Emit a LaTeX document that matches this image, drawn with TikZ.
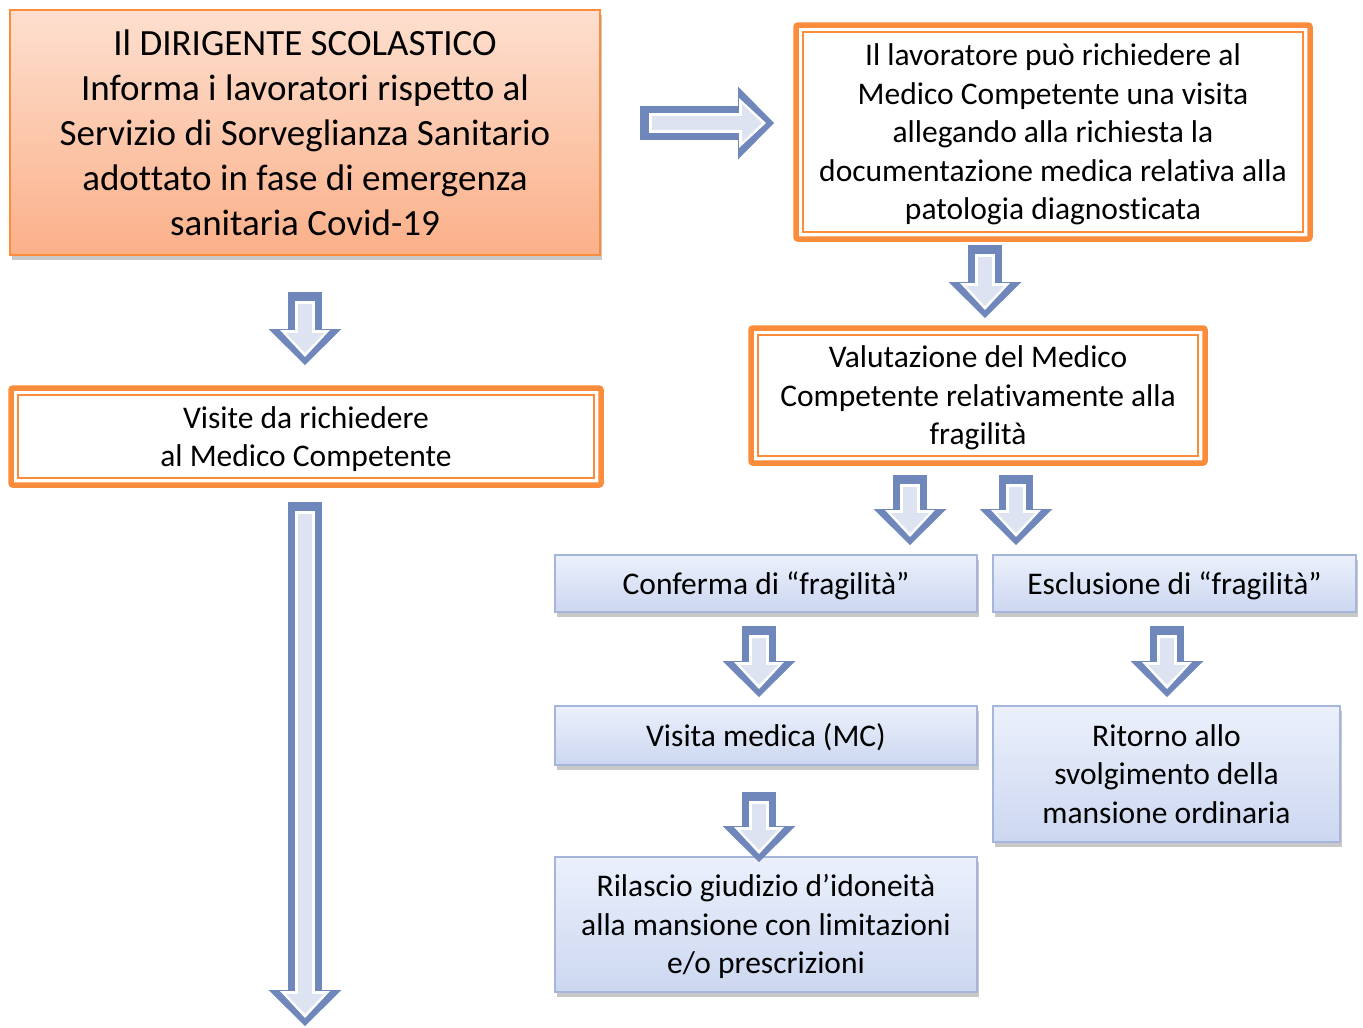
\documentclass[tikz,border=0pt]{standalone}
\usepackage{fontspec}
\setmainfont{Carlito}[Ligatures={NoCommon}]
\usetikzlibrary{arrows.meta,shadows,calc}
\definecolor{orng}{RGB}{250,140,60}
\definecolor{ablue}{RGB}{111,135,187}
\definecolor{alight}{RGB}{221,227,241}
\definecolor{btop}{RGB}{235,240,251}
\definecolor{bbot}{RGB}{204,215,240}
\definecolor{bborder}{RGB}{165,182,218}
\definecolor{otop}{RGB}{253,223,207}
\definecolor{obot}{RGB}{251,176,137}
\newcommand\lnstrut{\rule[-0.269em]{0pt}{1.221em}}
\tikzset{
  every node/.style={outer sep=0pt, inner sep=0pt, align=center, text=black,
    font=\fontsize{31.5}{38.5}\selectfont},
  orangebox/.style={draw=orng, line width=5.5pt, rounded corners=2pt, fill=white},
  innerline/.style={draw=orng, line width=1.8pt},
  bluebox/.style={draw=bborder, line width=1.5pt, top color=btop, bottom color=bbot,
    drop shadow={shadow xshift=2pt, shadow yshift=-5pt, opacity=0.3, fill=black!70}},
  headbox/.style={draw=orng, line width=1.5pt, top color=otop, bottom color=obot,
    drop shadow={shadow xshift=2pt, shadow yshift=-5pt, opacity=0.3, fill=black!70},
    font=\fontsize{37}{45}\selectfont},
  arrouter/.style={line width=34pt, ablue, -{Triangle[width=73pt,length=36pt,line width=0pt]}},
  arrwhite/.style={line width=20pt, white, shorten <=9pt, shorten >=8pt,
    -{Triangle[width=50pt,length=27pt,line width=0pt]}},
  arrinner/.style={line width=14pt, alight, shorten <=12pt, shorten >=12pt,
    -{Triangle[width=38pt,length=20pt,line width=0pt]}},
}
\newcommand\blockarr[2]{%
  \draw[arrouter] #1 -- #2;
  \draw[arrwhite] #1 -- #2;
  \draw[arrinner] #1 -- #2;
}
\begin{document}
\begin{tikzpicture}[x=1pt,y=-1pt]
\useasboundingbox[fill=white] (0,0) rectangle (1363,1028);

% boxes
\node[headbox, minimum width=590pt, minimum height=245pt] (head) at (305,132.5)
  {Il DIRIGENTE SCOLASTICO\\Informa i lavoratori rispetto al\\Servizio di Sorveglianza Sanitario\\adottato in fase di emergenza\\sanitaria Covid-19};

\node[orangebox, minimum width=514pt, minimum height=214pt] (req) at (1053,132)
  {\lnstrut Il lavoratore può richiedere al\\Medico Competente una visita\\allegando alla richiesta la\\documentazione medica relativa alla\\patologia diagnosticata\lnstrut};
\draw[innerline] ($(req.north west)+(7,7)$) rectangle ($(req.south east)+(-7,-7)$);

\node[orangebox, minimum width=590pt, minimum height=97pt] (vis) at (306,436.5)
  {\lnstrut Visite da richiedere\\al Medico Competente\lnstrut};
\draw[innerline] ($(vis.north west)+(7,7)$) rectangle ($(vis.south east)+(-7,-7)$);

\node[orangebox, minimum width=454pt, minimum height=135pt] (val) at (978,395.5)
  {\lnstrut Valutazione del Medico\\Competente relativamente alla\\fragilità\lnstrut};
\draw[innerline] ($(val.north west)+(7,7)$) rectangle ($(val.south east)+(-7,-7)$);

\node[bluebox, minimum width=422pt, minimum height=57pt] (conf) at (766,583.5)
  {\lnstrut Conferma di “fragilità”};
\node[bluebox, minimum width=363pt, minimum height=57pt] (escl) at (1174.5,583.5)
  {\lnstrut Esclusione di “fragilità”};
\node[bluebox, minimum width=422pt, minimum height=59pt] (visita) at (766,735.5)
  {\lnstrut Visita medica (MC)};
\node[bluebox, minimum width=347pt, minimum height=136pt] (rit) at (1166.5,774)
  {\lnstrut Ritorno allo\\svolgimento della\\mansione ordinaria\lnstrut};
\node[bluebox, minimum width=422pt, minimum height=135pt] (ril) at (766,924.5)
  {\lnstrut Rilascio giudizio d’idoneità\\alla mansione con limitazioni\\e/o prescrizioni\lnstrut};

\coordinate (end) at (305,1026);

% block arrows
\blockarr{($(head.east)+(40,-9.5)$)}{($(req.west)+(-22,-9)$)}
\blockarr{($(head.south)+(0,37)$)}{($(vis.north)+(-1,-23)$)}
\blockarr{($(req.south)+(-68,6)$)}{($(val.north)+(7,-10)$)}
\blockarr{($(val.south)+(-68,12)$)}{($(conf.north)+(144,-10)$)}
\blockarr{($(val.south)+(38,12)$)}{($(escl.north)+(-158.5,-10)$)}
\blockarr{($(conf.south)+(-7,14)$)}{($(visita.north)+(-7,-9)$)}
\blockarr{($(escl.south)+(-7.5,14)$)}{($(rit.north)+(0.5,-9)$)}
\blockarr{($(visita.south)+(-7,27)$)}{($(ril.north)+(-7,5)$)}
\blockarr{($(vis.south)+(-1,17)$)}{(end)}
\end{tikzpicture}
\end{document}
